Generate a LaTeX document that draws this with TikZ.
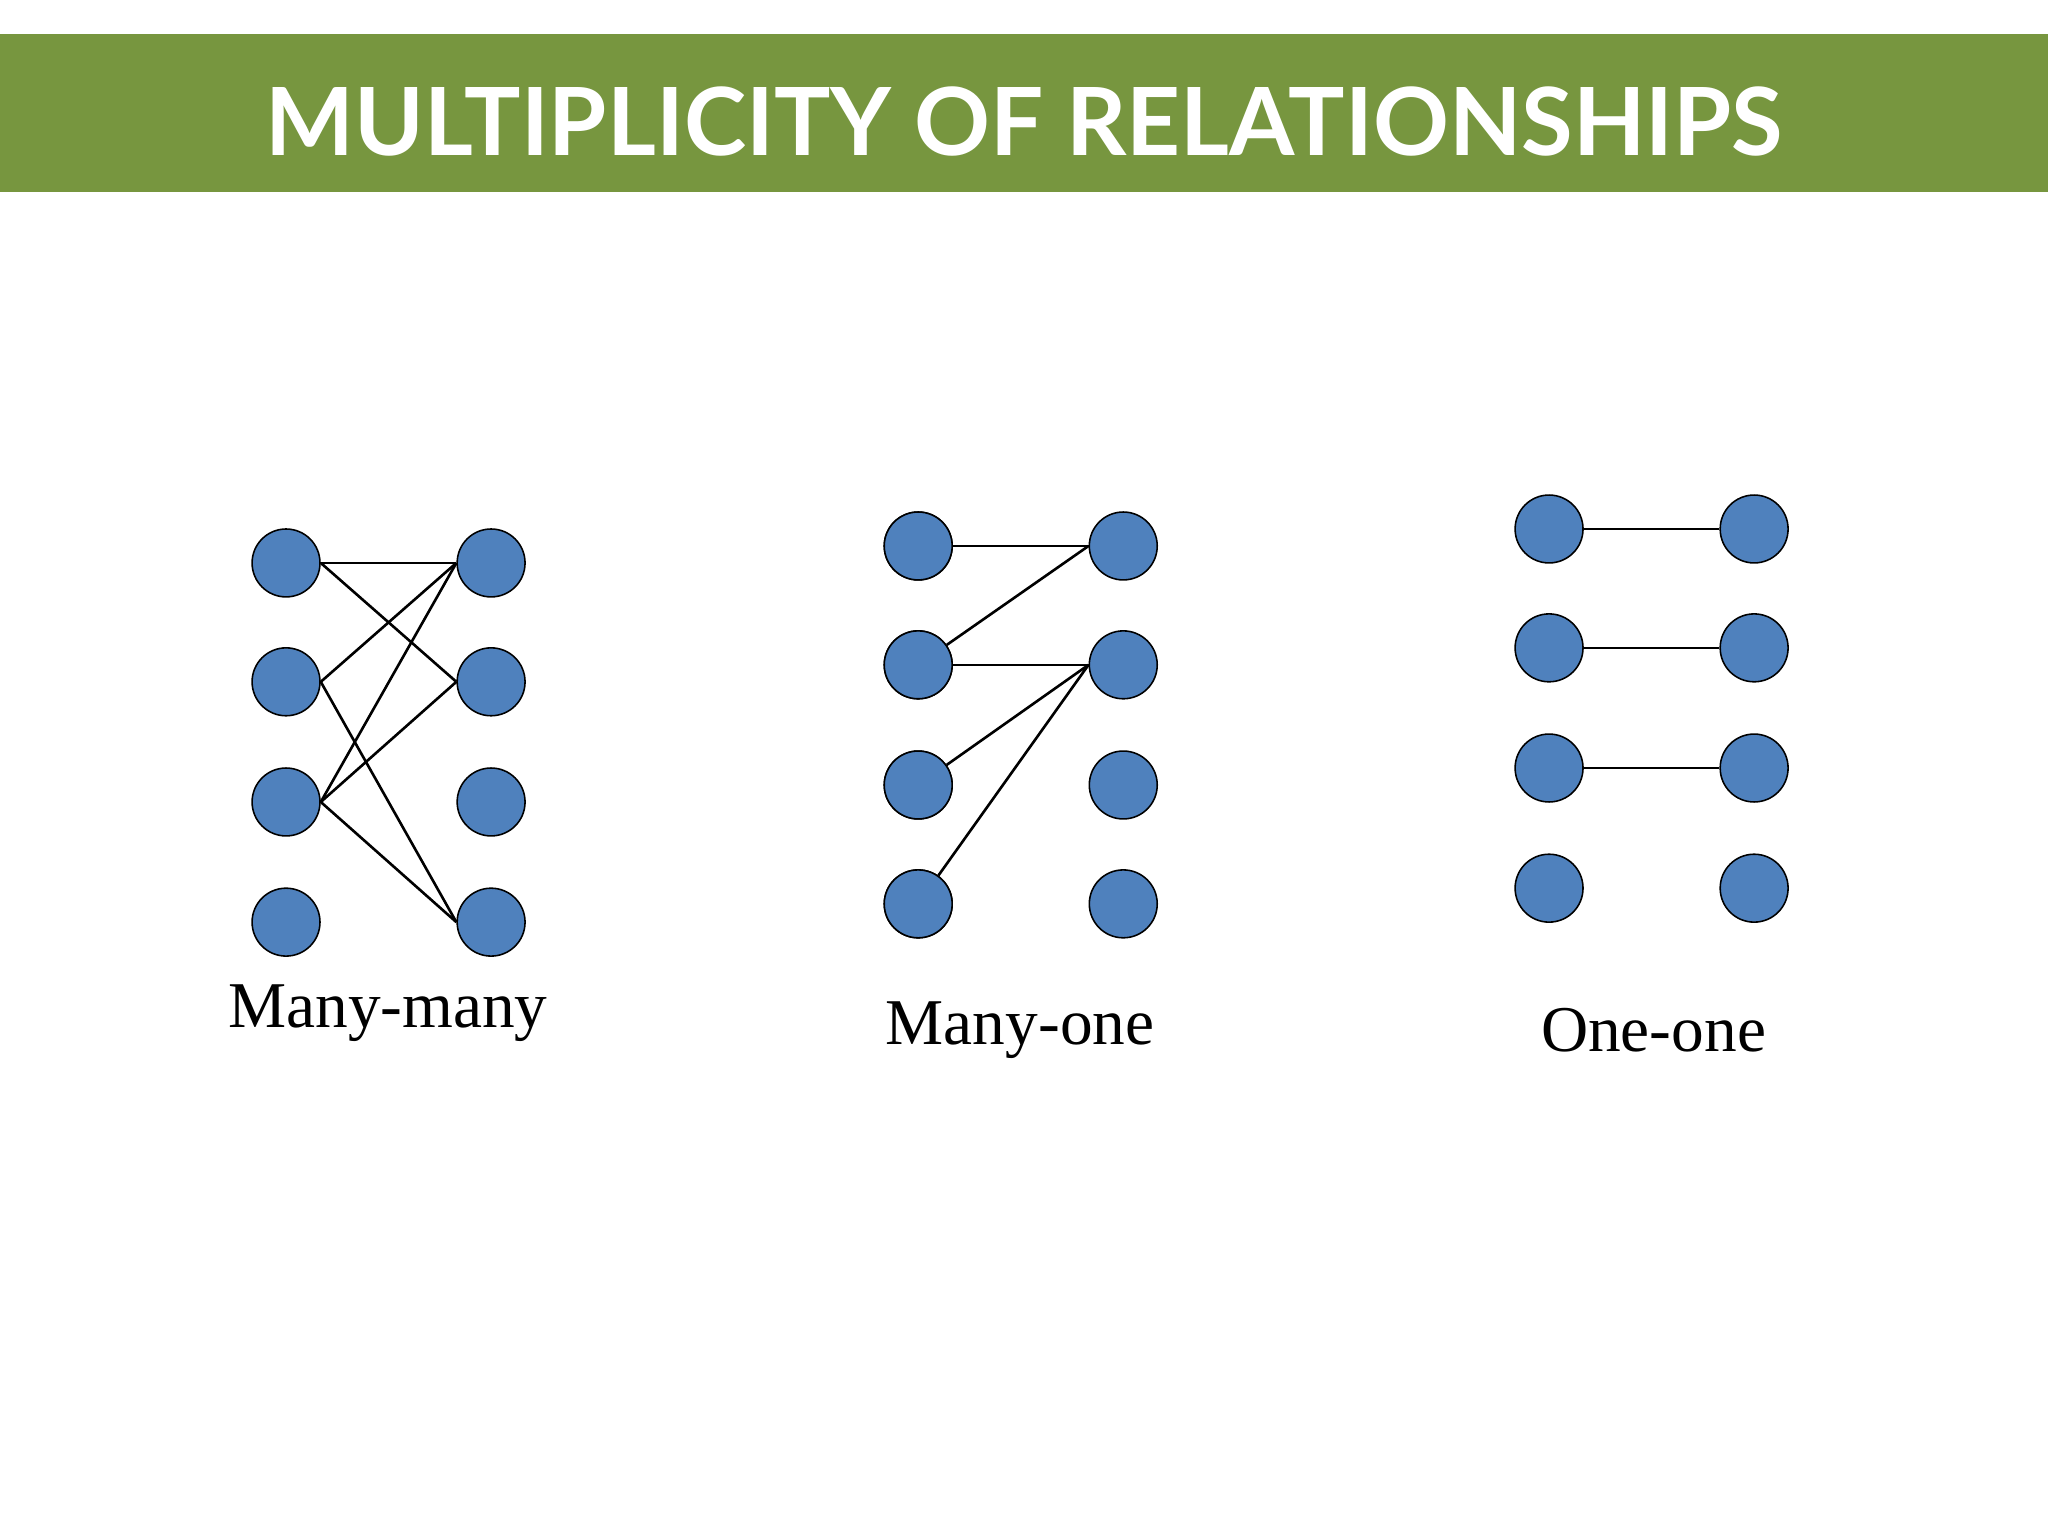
\documentclass[tikz,border=0pt]{standalone}
\usepackage{fontspec}
\setmainfont{Liberation Serif}
\newfontfamily\titlefont{Lato}
\definecolor{band}{HTML}{77963F}
\definecolor{dot}{HTML}{4F81BD}
\begin{document}
\begin{tikzpicture}[x=1pt,y=-1pt,
  dotn/.style={circle,draw=black,fill=dot,line width=1.2pt,minimum size=52pt,inner sep=0pt},
  edge/.style={line width=2pt,black},
  lab/.style={font=\fontsize{50}{60}\selectfont}]
\useasboundingbox (0,0) rectangle (1568,1176);
\fill[white] (0,0) rectangle (1568,1176);
\fill[band] (0,26) rectangle (1568,147);
\node[text=white,font=\titlefont\bfseries\fontsize{72}{80}\selectfont] (title) at (784,93) {MULTIPLICITY OF RELATIONSHIPS};
% many-many
\foreach \i/\y in {1/431,2/522,3/614,4/706}{
  \node[dotn] (a\i) at (219,\y) {};
  \node[dotn] (b\i) at (376,\y) {};}
\foreach \l/\r in {1/1,1/2,2/1,2/4,3/1,3/2,3/4}
  \draw[edge] (a\l.east) -- (b\r.west);
\node[lab] (l1) at (297,776) {Many-many};
% many-one
\foreach \i/\y in {1/418,2/509,3/601,4/692}{
  \node[dotn] (c\i) at (703,\y) {};
  \node[dotn] (d\i) at (860,\y) {};}
\foreach \l/\r in {1/1,2/1,2/2,3/2,4/2}
  \draw[edge] (c\l) -- (d\r.west);
\foreach \i in {1,...,4}{\node[dotn] at (c\i) {};}
\node[lab] (l2) at (781,789) {Many-one};
% one-one
\foreach \i/\y in {1/405,2/496,3/588,4/680}{
  \node[dotn] (e\i) at (1186,\y) {};
  \node[dotn] (f\i) at (1343,\y) {};}
\foreach \i in {1,2,3}
  \draw[edge] (e\i.east) -- (f\i.west);
\node[lab] (l3) at (1266,789) {One-one};
\end{tikzpicture}
\end{document}
